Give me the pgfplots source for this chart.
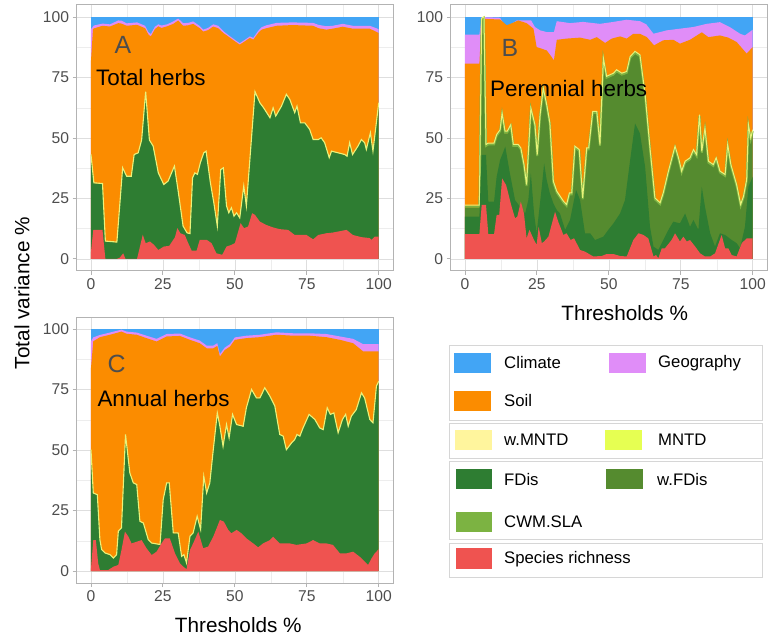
\documentclass[border=0pt]{standalone}
\usepackage{pgfplots}
\pgfplotsset{compat=1.18}
\usepackage{fontspec}
\setmainfont{Liberation Sans}
\definecolor{cClim}{HTML}{42A5F5}
\definecolor{cGeo}{HTML}{E08DF8}
\definecolor{cSoil}{HTML}{FB8C00}
\definecolor{cWMNTD}{HTML}{FFF59D}
\definecolor{cMNTD}{HTML}{E6FF52}
\definecolor{cFDis}{HTML}{2E7D32}
\definecolor{cWFDis}{HTML}{558B2F}
\definecolor{cCWM}{HTML}{7CB342}
\definecolor{cSR}{HTML}{EF5350}
\definecolor{cLine}{HTML}{E9F27A}
\definecolor{tickgray}{HTML}{4D4D4D}
\definecolor{framegray}{HTML}{B3B3B3}
\definecolor{gridgray}{HTML}{DEDEDE}
\definecolor{boxgray}{HTML}{D6D6D6}
\pgfplotsset{panel/.style={
  scale only axis, width=316.5bp, height=266bp, anchor=south west,
  xmin=-5, xmax=105, ymin=-5, ymax=105,
  xtick={0,25,50,75,100}, ytick={0,25,50,75,100},
  minor tick num=1,
  grid=both,
  major grid style={gridgray, line width=0.6bp},
  minor grid style={gridgray!55, line width=0.4bp},
  axis line style={framegray, line width=1bp},
  tick align=outside, tick pos=left,
  major tick length=4bp, minor tick length=0pt,
  tick style={framegray, line width=0.9bp},
  /pgf/number format/assume math mode=true,
  every tick label/.append style={font=\fontsize{15.7}{16}\selectfont, text=tickgray},
  xlabel style={font=\fontsize{20.8}{22}\selectfont, anchor=center},
}}
\begin{document}
\begin{tikzpicture}[x=1bp,y=1bp]
\path[use as bounding box] (0,0) rectangle (768,642);

% ---------------- Panel A ----------------
\begin{axis}[panel, at={(76.6bp,371bp)}]
\addplot[fill=cClim, draw=none] coordinates {(0,100) (100,100)} \closedcycle;
\addplot[fill=cGeo, draw=none] coordinates {(0,95) (1,96.5) (4,97.3) (6.6,97) (9.5,98.6) (10.6,98.5) (12.4,97.4) (16,97.8) (18.8,96.4) (20,93.7) (20.8,93) (22.2,96) (23.4,97) (24.5,96.5) (26.5,97) (28.6,98.2) (30.3,99.4) (32,97.5) (33.8,97.6) (35.5,98.2) (37.8,96.3) (39,94.8) (40.7,95.5) (42.5,97) (44.2,96.4) (46,94.2) (47.7,92.6) (50,90.6) (51.7,89.2) (53.5,90.6) (55.2,92) (56.4,91.4) (58.1,94.3) (59.3,95.8) (61,96.6) (64.5,97.6) (70,97.8) (77.2,97.6) (79,96.8) (81.8,96.2) (84,96.4) (87.5,97.2) (91,96.4) (96.9,96.4) (100,95)} \closedcycle;
\addplot[fill=cSoil, draw=none] coordinates {(0,82) (0.7,95) (1,95.3) (4,96.4) (6.6,96.1) (9.5,97.5) (10.6,97.3) (12.4,96.4) (16,96.8) (18.8,95.4) (20,92.7) (20.8,92) (22.2,95) (23.4,96.2) (24.5,95.5) (26.5,96.2) (28.6,97.2) (30.3,98.6) (32,96.4) (33.8,96.6) (35.5,97.2) (37.8,95.4) (39,94) (40.7,94.6) (42.5,96.1) (44.2,95.4) (46,93.4) (47.7,92) (50,90) (51.7,88.6) (53.5,90) (55.2,91.4) (56.4,90.7) (58.1,93.4) (59.3,94.8) (61,95.4) (64.5,96.4) (70,96.7) (77.2,96.4) (79,95.4) (81.8,94.8) (84,95.2) (87.5,96) (91,95.2) (96.9,95.2) (100,93.4)} \closedcycle;
\addplot[fill=cFDis, draw=none] coordinates {(0,43) (1,31.3) (4,31) (5,7.2) (9,6.8) (11,37.5) (12.4,34) (14,34) (15,43) (16.4,43.7) (17.6,49) (19,69) (20.3,49) (21.6,46.5) (23.4,35.4) (25.3,30.6) (26.8,32) (28,35.4) (29,38.2) (30.3,27.9) (32,13.4) (33.4,10.6) (34.4,10.3) (35.3,33.4) (36.1,35.4) (37,34.8) (38,39.6) (39.2,43.7) (40,44.4) (41.5,31.3) (42.7,23) (43.9,13.4) (45.1,36.8) (46,37.5) (47.1,21.7) (47.9,18.9) (48.8,21) (49.7,17.5) (50.6,18.9) (51.7,16.8) (53.1,30) (54,21.7) (57,69) (58.7,64.4) (60,62.3) (62.2,58.2) (63.3,62.3) (64.2,58.9) (66.2,63) (67.9,67.9) (69.1,65.8) (70.8,60.3) (71.6,63) (72.8,56.1) (74.3,56.1) (76,53.4) (77.2,49.2) (79,49.2) (80,49.9) (81.2,47.9) (82.8,41.7) (83.6,44.4) (85.9,43.7) (88.2,43) (89,42.3) (89.9,47.9) (90.9,43) (92.8,46.5) (94,49.2) (95.1,47.9) (95.7,45.1) (97.1,52) (98,44.4) (100,64.4)} \closedcycle;
\addplot[draw=cLine, line width=1.1bp, yshift=0.4bp] coordinates {(0,43) (1,31.3) (4,31) (5,7.2) (9,6.8) (11,37.5) (12.4,34) (14,34) (15,43) (16.4,43.7) (17.6,49) (19,69) (20.3,49) (21.6,46.5) (23.4,35.4) (25.3,30.6) (26.8,32) (28,35.4) (29,38.2) (30.3,27.9) (32,13.4) (33.4,10.6) (34.4,10.3) (35.3,33.4) (36.1,35.4) (37,34.8) (38,39.6) (39.2,43.7) (40,44.4) (41.5,31.3) (42.7,23) (43.9,13.4) (45.1,36.8) (46,37.5) (47.1,21.7) (47.9,18.9) (48.8,21) (49.7,17.5) (50.6,18.9) (51.7,16.8) (53.1,30) (54,21.7) (57,69) (58.7,64.4) (60,62.3) (62.2,58.2) (63.3,62.3) (64.2,58.9) (66.2,63) (67.9,67.9) (69.1,65.8) (70.8,60.3) (71.6,63) (72.8,56.1) (74.3,56.1) (76,53.4) (77.2,49.2) (79,49.2) (80,49.9) (81.2,47.9) (82.8,41.7) (83.6,44.4) (85.9,43.7) (88.2,43) (89,42.3) (89.9,47.9) (90.9,43) (92.8,46.5) (94,49.2) (95.1,47.9) (95.7,45.1) (97.1,52) (98,44.4) (100,64.4)};
\addplot[fill=cSR, draw=none] coordinates {(0,3) (0.8,12) (4,12) (5,0) (9,0) (10,0.5) (11.2,2.3) (12,0) (16,0) (18,10) (19,6.5) (20.5,7.2) (21.9,5.8) (23.4,3.7) (25.3,5.1) (27.2,5.4) (28.6,7.9) (29.2,9) (30,12.7) (31.1,10.6) (32.6,9.9) (33.8,6.5) (35,3.4) (36.7,3.4) (37.8,7.9) (40.2,7.9) (41.9,6.5) (43.6,2.3) (45.6,1.7) (47.1,5.1) (48.8,5.8) (50,6.5) (52,14.8) (53.2,12.7) (54.6,13.4) (56,18.9) (57,18.2) (58.7,15.4) (61,14) (63.3,13) (65.6,12.3) (68.5,12) (70.8,9.9) (74.9,9.9) (77.2,8.1) (79,9.9) (81.8,10.6) (84.1,10.9) (88.8,12) (91,9.9) (94,9) (96.9,8.6) (97.5,7.9) (98.6,9.2) (100,9.2)} \closedcycle;
\node[font=\fontsize{25}{26}\selectfont, text=tickgray, inner sep=0pt] at (axis cs:11.1,88.5) {A};
\node[font=\fontsize{22.5}{24}\selectfont, anchor=west, inner sep=0pt] at (axis cs:1.7,75) {Total herbs};
\end{axis}

% ---------------- Panel B ----------------
\begin{axis}[panel, at={(450.6bp,371bp)}, xlabel={Thresholds \%},
  xlabel style={at={(axis description cs:0.55,-0.159)}}]
\addplot[fill=cClim, draw=none] coordinates {(0,100) (100,100)} \closedcycle;
\addplot[fill=cGeo, draw=none] coordinates {(0,92.7) (5,92.7) (5.8,100) (12.2,99.7) (13.5,97) (14.5,95.9) (16,97) (18,98.6) (23,98.6) (24.3,95.9) (26.1,94.5) (28.4,93.8) (30.9,93.8) (31.9,98.3) (36.5,97.5) (41,98) (46.9,97.2) (51.6,98) (56.2,98.9) (60.8,98.3) (63,97) (65.5,93.1) (70.1,94.5) (74.7,95.2) (79.4,95.9) (84,97.2) (88.6,97.9) (92,95.9) (95.6,93.1) (97.3,92.4) (100,94.8)} \closedcycle;
\addplot[fill=cSoil, draw=none] coordinates {(0,80.7) (5,80.7) (5.8,99.3) (12.2,99) (14.5,96.6) (16.4,97.5) (18.5,98.6) (21.4,97.5) (23.8,95.2) (24.9,87.6) (26.7,86.9) (28.4,86.2) (30.1,83.5) (30.9,82.1) (31.9,90.6) (35.3,91.1) (40,91.5) (43.5,90.6) (45.8,91.7) (48.7,89.3) (51,91.1) (53.9,92) (56.2,91.1) (58.5,93.1) (60.8,93.1) (63.2,91.7) (65.7,88.3) (68.9,90.4) (72.4,90.6) (74.7,89) (78.2,90.6) (82.3,93.7) (84.6,91.7) (88.6,92.4) (91.5,91.5) (94.4,89.7) (97.9,84.9) (100,87.6)} \closedcycle;
\addplot[fill=cWFDis, draw=none] coordinates {(0,21.3) (5,21.3) (5.8,98.6) (6.6,99.3) (7.3,46.4) (8.1,47) (10.1,47) (11,50.5) (12.2,52.5) (12.9,59.4) (13.9,51.9) (14.7,51.9) (15.9,54.6) (16.8,46.4) (18.5,46.4) (19.4,45) (20.5,38.1) (21.4,29.8) (22.9,61.5) (24.3,54.6) (25.1,42.2) (26.1,58.7) (27.2,69.7) (28.4,62.9) (29.5,55.3) (30.7,31.2) (31.9,27.1) (34.2,23) (35.3,21.6) (36.3,26.4) (37.1,26.4) (38.2,45.7) (39.7,44.3) (40.9,24.3) (42.3,45) (43,45) (44.4,60.1) (45.8,60.1) (46.9,46.4) (48.1,82.1) (49.2,74.6) (51.6,75.9) (52.7,77.3) (54.5,75.9) (56.2,76.6) (57.4,82.8) (59.1,84.9) (60.8,83.5) (62.6,67) (64.3,45) (66,24.3) (67.8,22.3) (68.9,26.4) (70.7,35.4) (73,45.7) (74.2,40.9) (75.3,35.4) (76.5,39.5) (78.2,40.9) (79.4,44.3) (80.5,42.2) (81.5,58.7) (82.3,43.6) (83.4,53.2) (84.6,39.5) (86.3,38.1) (87.3,40.9) (88.6,35.4) (90.4,34) (91.3,46.4) (92.4,38.1) (94.4,29.8) (95.8,21.6) (96.8,25) (97.9,31.9) (98.5,54.6) (99.3,49.1) (100,52.5)} \closedcycle;
\addplot[draw=cCWM, line width=2bp, yshift=0.8bp] coordinates {(0,21.3) (5,21.3) (5.8,98.6) (6.6,99.3) (7.3,46.4) (8.1,47) (10.1,47) (11,50.5) (12.2,52.5) (12.9,59.4) (13.9,51.9) (14.7,51.9) (15.9,54.6) (16.8,46.4) (18.5,46.4) (19.4,45) (20.5,38.1) (21.4,29.8) (22.9,61.5) (24.3,54.6) (25.1,42.2) (26.1,58.7) (27.2,69.7) (28.4,62.9) (29.5,55.3) (30.7,31.2) (31.9,27.1) (34.2,23) (35.3,21.6) (36.3,26.4) (37.1,26.4) (38.2,45.7) (39.7,44.3) (40.9,24.3) (42.3,45) (43,45) (44.4,60.1) (45.8,60.1) (46.9,46.4) (48.1,82.1) (49.2,74.6) (51.6,75.9) (52.7,77.3) (54.5,75.9) (56.2,76.6) (57.4,82.8) (59.1,84.9) (60.8,83.5) (62.6,67) (64.3,45) (66,24.3) (67.8,22.3) (68.9,26.4) (70.7,35.4) (73,45.7) (74.2,40.9) (75.3,35.4) (76.5,39.5) (78.2,40.9) (79.4,44.3) (80.5,42.2) (81.5,58.7) (82.3,43.6) (83.4,53.2) (84.6,39.5) (86.3,38.1) (87.3,40.9) (88.6,35.4) (90.4,34) (91.3,46.4) (92.4,38.1) (94.4,29.8) (95.8,21.6) (96.8,25) (97.9,31.9) (98.5,54.6) (99.3,49.1) (100,52.5)};
\addplot[draw=cLine, line width=1bp, yshift=2.2bp] coordinates {(0,21.3) (5,21.3) (5.8,98.6) (6.6,99.3) (7.3,46.4) (8.1,47) (10.1,47) (11,50.5) (12.2,52.5) (12.9,59.4) (13.9,51.9) (14.7,51.9) (15.9,54.6) (16.8,46.4) (18.5,46.4) (19.4,45) (20.5,38.1) (21.4,29.8) (22.9,61.5) (24.3,54.6) (25.1,42.2) (26.1,58.7) (27.2,69.7) (28.4,62.9) (29.5,55.3) (30.7,31.2) (31.9,27.1) (34.2,23) (35.3,21.6) (36.3,26.4) (37.1,26.4) (38.2,45.7) (39.7,44.3) (40.9,24.3) (42.3,45) (43,45) (44.4,60.1) (45.8,60.1) (46.9,46.4) (48.1,82.1) (49.2,74.6) (51.6,75.9) (52.7,77.3) (54.5,75.9) (56.2,76.6) (57.4,82.8) (59.1,84.9) (60.8,83.5) (62.6,67) (64.3,45) (66,24.3) (67.8,22.3) (68.9,26.4) (70.7,35.4) (73,45.7) (74.2,40.9) (75.3,35.4) (76.5,39.5) (78.2,40.9) (79.4,44.3) (80.5,42.2) (81.5,58.7) (82.3,43.6) (83.4,53.2) (84.6,39.5) (86.3,38.1) (87.3,40.9) (88.6,35.4) (90.4,34) (91.3,46.4) (92.4,38.1) (94.4,29.8) (95.8,21.6) (96.8,25) (97.9,31.9) (98.5,54.6) (99.3,49.1) (100,52.5)};
\addplot[fill=cFDis, draw=none] coordinates {(0,17.5) (5,17.5) (5.8,43) (7.3,43) (8.1,23.7) (10.1,23.7) (11,34) (12.2,40.9) (13.1,43.6) (14,46.4) (15.6,35.4) (17.4,24.3) (19.1,21.6) (20.9,18.8) (22,24.3) (22.9,35.4) (24,18.8) (24.9,10.6) (26.7,29.8) (27.5,39.5) (28.4,32.6) (29.5,27.1) (30.7,23) (31.9,20.2) (33,18.8) (34.8,12) (36.5,16.1) (38.6,28.5) (40,24.3) (41.7,10.6) (43.5,10.6) (45.2,7.8) (48.1,9.2) (49.8,12) (51.6,14.7) (53.9,18.8) (55.6,24.3) (57.4,40.9) (59.1,56) (60.8,51.9) (62.6,38.1) (64.3,13.3) (65.5,5.1) (67.2,3.7) (68.9,7.8) (70.7,12) (72.4,15.4) (74.7,14.7) (76.5,18.8) (78.2,13.3) (79.4,16.1) (81.1,12) (82.3,29.8) (83.4,21.6) (85.2,10.6) (86.9,5.1) (88.6,10.6) (90.4,9.9) (92.7,7.8) (94.4,6.5) (95.6,4.4) (97.3,13.3) (98.5,29.8) (100,34)} \closedcycle;
\addplot[fill=cSR, draw=none] coordinates {(0,10.2) (5,10.2) (5.8,22.3) (7.3,22.3) (8.1,10.2) (10.1,10.2) (11,18.2) (11.9,18.2) (12.9,33.3) (14.3,30.5) (16.2,21.6) (17.4,16.8) (18.2,17.5) (19.4,23.7) (20.5,18.8) (21.4,8.5) (22.4,12) (24,7.8) (24.9,5.8) (25.6,13.3) (26.7,6.5) (27.5,7.2) (29,9.2) (31.3,19.5) (32.4,15.4) (34.2,9.9) (35.3,10.6) (36.7,7.8) (37.9,8.5) (40,3.7) (41.7,3) (44.6,1) (47.5,1.2) (49.2,2) (51.6,2) (53.9,1.2) (56.2,1) (58.5,7.8) (60.3,10.6) (62,9.9) (63.7,8.5) (65.5,1) (66.4,1.6) (67.2,0.3) (68.4,4.4) (69.5,4.4) (71.8,7.8) (73,10.6) (74.7,7.2) (75.9,9.2) (77.1,7.2) (78.2,7.8) (80,5.1) (81.7,2.3) (83.4,1) (85.2,1) (86.9,2.3) (89.2,9.9) (90.4,4.4) (91.5,4.4) (92.7,1.6) (94.4,1) (96.2,6.5) (97.9,8.5) (100,8.5)} \closedcycle;
\node[font=\fontsize{25}{26}\selectfont, text=tickgray, inner sep=0pt] at (axis cs:15.6,87.3) {B};
\node[font=\fontsize{22.5}{24}\selectfont, anchor=west, inner sep=0pt] at (axis cs:8.7,70.5) {Perennial herbs};
\end{axis}

% ---------------- Panel C ----------------
\begin{axis}[panel, at={(76.6bp,58.9bp)}, xlabel={Thresholds \%},
  xlabel style={at={(axis description cs:0.511,-0.159)}}]
\addplot[fill=cClim, draw=none] coordinates {(0,100) (100,100)} \closedcycle;
\addplot[fill=cGeo, draw=none] coordinates {(0,95) (0.8,96.6) (3.1,97.6) (6.6,98.6) (10.6,99.8) (12.4,99) (15.9,98.6) (19.3,97.3) (22.8,96) (26.3,98) (30.9,98.2) (34.4,96.6) (37.8,95.3) (40.2,93.2) (42.5,93.2) (43.9,94.2) (44.8,89.7) (46.5,92.4) (48.3,93.8) (50,96.6) (54,97.3) (58.7,97.7) (64.5,98.7) (70.3,98.3) (76,98.3) (81.8,98) (86.5,97) (91.1,96) (94.6,93.8) (96.9,93.8) (100,93.8)} \closedcycle;
\addplot[fill=cSoil, draw=none] coordinates {(0,84) (0.8,95) (3.1,96.7) (6.6,97.7) (10.6,99) (12.4,98.1) (15.9,97.7) (19.3,96.3) (22.8,94.9) (26.3,97) (30.9,97.2) (34.4,95.6) (37.8,94.2) (40.2,92.1) (42.5,92.1) (43.9,93.1) (44.8,88.7) (46.5,91.4) (48.3,92.8) (50,95.6) (54,96.3) (58.7,96.7) (64.5,97.7) (70.3,97.3) (76,97.3) (81.8,96.7) (86.5,95.6) (91.1,94.2) (94.6,90.8) (96.9,90.8) (100,90.8)} \closedcycle;
\addplot[fill=cFDis, draw=none] coordinates {(0,50) (0.8,32.1) (2.2,31.4) (3.1,12.8) (3.7,8.7) (4.9,7.3) (6.6,6.6) (7.8,5.2) (8.9,6.6) (9.5,16.3) (10.6,17.7) (12,56.3) (13.5,40.4) (14.7,36.3) (15.9,35.6) (17,20.4) (18.2,19.7) (19.9,12.8) (21.1,11.4) (24,10.8) (25.1,29.4) (26.3,36.3) (27.2,36.3) (28.6,15.6) (30.3,15.6) (31.5,5.9) (32.3,6.6) (33.2,3.2) (34.4,14.2) (35.5,15.6) (36.9,22.5) (38.1,17) (39.2,39) (40.2,32.1) (41.3,36.3) (42.5,50) (43.9,65.2) (44.8,59.7) (45.9,51.4) (47.1,60.4) (48,54.9) (49.2,64.6) (50.6,60.4) (52.9,59.7) (54,67.3) (55.8,74.9) (57.5,71.4) (58.7,71.4) (60.4,75.6) (62.2,72.1) (63.9,68) (65.6,56.3) (66.8,55.6) (67.9,50) (69.7,52.8) (70.8,54.2) (71.6,56.3) (72.6,55.6) (73.7,59) (75.8,64.6) (77.8,62.5) (79.5,59) (80.7,58.3) (82.1,67.3) (83.2,64.6) (84.4,65.2) (85.9,57) (87.4,62.5) (88.5,64.6) (89.4,59.7) (90.5,63.9) (92.2,66.6) (94,73.5) (95.1,71.4) (96.9,62.5) (98,61.1) (99.2,76.3) (100,78.3)} \closedcycle;
\addplot[draw=cLine, line width=1.1bp, yshift=0.4bp] coordinates {(0,50) (0.8,32.1) (2.2,31.4) (3.1,12.8) (3.7,8.7) (4.9,7.3) (6.6,6.6) (7.8,5.2) (8.9,6.6) (9.5,16.3) (10.6,17.7) (12,56.3) (13.5,40.4) (14.7,36.3) (15.9,35.6) (17,20.4) (18.2,19.7) (19.9,12.8) (21.1,11.4) (24,10.8) (25.1,29.4) (26.3,36.3) (27.2,36.3) (28.6,15.6) (30.3,15.6) (31.5,5.9) (32.3,6.6) (33.2,3.2) (34.4,14.2) (35.5,15.6) (36.9,22.5) (38.1,17) (39.2,39) (40.2,32.1) (41.3,36.3) (42.5,50) (43.9,65.2) (44.8,59.7) (45.9,51.4) (47.1,60.4) (48,54.9) (49.2,64.6) (50.6,60.4) (52.9,59.7) (54,67.3) (55.8,74.9) (57.5,71.4) (58.7,71.4) (60.4,75.6) (62.2,72.1) (63.9,68) (65.6,56.3) (66.8,55.6) (67.9,50) (69.7,52.8) (70.8,54.2) (71.6,56.3) (72.6,55.6) (73.7,59) (75.8,64.6) (77.8,62.5) (79.5,59) (80.7,58.3) (82.1,67.3) (83.2,64.6) (84.4,65.2) (85.9,57) (87.4,62.5) (88.5,64.6) (89.4,59.7) (90.5,63.9) (92.2,66.6) (94,73.5) (95.1,71.4) (96.9,62.5) (98,61.1) (99.2,76.3) (100,78.3)};
\addplot[fill=cSR, draw=none] coordinates {(0,1) (0.8,12.8) (1.7,12.8) (2.5,3.2) (3.1,0.4) (6,0.4) (7.8,1.8) (9.5,2.5) (10.6,8.7) (11.8,16.3) (13,14.2) (14.1,11.4) (15.9,12.1) (17.6,12.8) (19.3,9.4) (21.1,6.6) (22.8,8) (24.5,11.4) (25.7,13.5) (27.4,13.5) (29.2,7.3) (30.9,3.2) (32.1,1.8) (33.2,0.7) (34.4,8.7) (35.5,11.4) (37.3,16.3) (39,9.4) (40.7,10.1) (42.5,14.2) (44.8,21.1) (46.2,20.4) (47.7,17) (48.8,15.6) (50.6,17) (52.3,15.6) (54,13.5) (56.4,11.4) (58.1,9.8) (59.8,11.4) (62.2,12.8) (63.3,14.2) (65.6,11.4) (69.1,11.4) (71.4,10.8) (74.9,11.4) (77.2,12.8) (79.5,11.4) (81.8,11.4) (84.1,10.8) (86.5,7.3) (88.8,7.3) (91.1,8) (93.4,5.9) (95.7,3.2) (96.3,2.5) (97.5,5.2) (98.6,7.3) (100,9)} \closedcycle;
\node[font=\fontsize{25}{26}\selectfont, text=tickgray, inner sep=0pt] at (axis cs:8.9,85.8) {C};
\node[font=\fontsize{22.5}{24}\selectfont, anchor=west, inner sep=0pt] at (axis cs:2.2,71.4) {Annual herbs};
\end{axis}

% y axis title
\node[rotate=90, font=\fontsize{20.8}{22}\selectfont] at (22,349) {Total variance \%};

% ---------------- Legend ----------------
\begin{scope}[every node/.style={font=\fontsize{16.8}{18}\selectfont, anchor=west, inner sep=0pt}]
\draw[boxgray, line width=1bp, fill=white] (449,221) rectangle (762,296);
\draw[boxgray, line width=1bp, fill=white] (449,183.7) rectangle (762,218);
\draw[boxgray, line width=1bp, fill=white] (449,102) rectangle (762,180.3);
\draw[boxgray, line width=1bp, fill=white] (449,64.7) rectangle (762,98.7);
\fill[cClim] (454,268.7) rectangle (491,289.3);
\node at (504,279) {Climate};
\fill[cGeo] (609,268.7) rectangle (646,289.3);
\node at (658,279) {Geography};
\fill[cSoil] (454,231) rectangle (491,251);
\node at (504,241) {Soil};
\fill[cWMNTD] (455,192) rectangle (492,212);
\node at (504,202) {w.MNTD};
\fill[cMNTD] (605,192) rectangle (642,212);
\node at (658,202) {MNTD};
\fill[cFDis] (455.5,152.7) rectangle (492.3,172.7);
\node at (504,162.7) {FDis};
\fill[cWFDis] (606,152.5) rectangle (643,172.5);
\node at (657,162.7) {w.FDis};
\fill[cCWM] (455.5,110.3) rectangle (492.3,130.3);
\node at (504,120.3) {CWM.SLA};
\fill[cSR] (455.5,73) rectangle (492.3,93.7);
\node at (504,83.3) {Species richness};
\end{scope}
\end{tikzpicture}
\end{document}
